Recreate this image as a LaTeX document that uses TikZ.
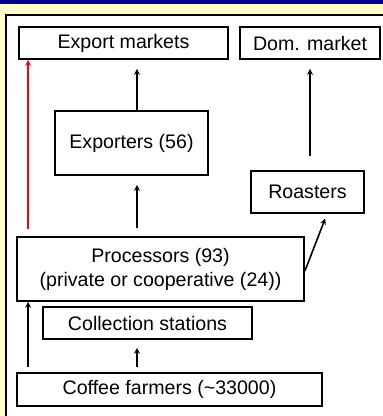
\documentclass[tikz,border=0pt]{standalone}
\usepackage{fontspec}
\setmainfont{Liberation Sans}
\usepackage{tikz}
\usetikzlibrary{shapes}
\definecolor{band}{RGB}{0, 0, 153}
\definecolor{paper}{RGB}{255, 255, 204}
\definecolor{hot}{RGB}{255, 0, 0}

\begin{document}
\begin{tikzpicture}[
   x=1pt, y=-1pt,
   stagebox/.style={rectangle, draw=black, fill=white, line width=1.8, text=black,
                    inner sep=0, align=center, font=\fontsize{19.6}{24}\selectfont},
   flow/.style={->, >=stealth, color=black, line width=1.6},
   redflow/.style={->, >=stealth, color=hot, line width=1.6}
  ]

  % Background and panel
  \useasboundingbox (0, 0) rectangle (383, 416);
  \fill[paper] (0, 0) rectangle (383, 416);
  \fill[band] (0, 0) rectangle (383, 4);
  \fill[white] (5, 14) rectangle (383, 416);
  \draw[line width=1.6] (5.8, 416) -- (5.8, 14.8) -- (383, 14.8);

  \node (export) at (123.5, 43) [stagebox, minimum width=209, minimum height=32] {Export markets};
  \node (dom) at (310, 43) [stagebox, minimum width=140, minimum height=32] {Dom. market};
  \node (exporters) at (131.5, 143) [stagebox, minimum width=153, minimum height=64] {Exporters (56)};
  \node (roasters) at (307.5, 192) [stagebox, minimum width=113, minimum height=42] {Roasters};
  \node (proc) at (160.5, 269) [stagebox, minimum width=287, minimum height=64]
    {Processors (93)\\(private or cooperative (24))};
  \node (coll) at (147.5, 323) [stagebox, minimum width=209, minimum height=32] {Collection stations};
  \node (farm) at (169.5, 389.5) [stagebox, minimum width=305, minimum height=33] {Coffee farmers (\textasciitilde 33000)};

  \draw[redflow, shorten <=7] ([xshift=12]proc.north west) -- ([xshift=12]proc.north west |- export.south);
  \draw[flow, shorten >=9] ([xshift=5.5]exporters.north) -- ([xshift=5.5]exporters.north |- export.south);
  \draw[flow, shorten <=8, shorten >=9] ([xshift=5.5]exporters.south |- proc.north) -- ([xshift=5.5]exporters.south);
  \draw[flow, shorten <=14, shorten >=9] (dom.south |- roasters.north) -- (dom.south);
  \draw[flow, shorten >=5] ([yshift=-2]proc.east) -- ([xshift=19.5]roasters.south);
  \draw[flow, shorten <=5] ([xshift=12]farm.north west) -- ([xshift=12]farm.north west |- proc.south);
  \draw[flow, shorten <=5, shorten >=8] ([xshift=-32.5]farm.north) -- ([xshift=-32.5]farm.north |- coll.south);

\end{tikzpicture}
\end{document}
